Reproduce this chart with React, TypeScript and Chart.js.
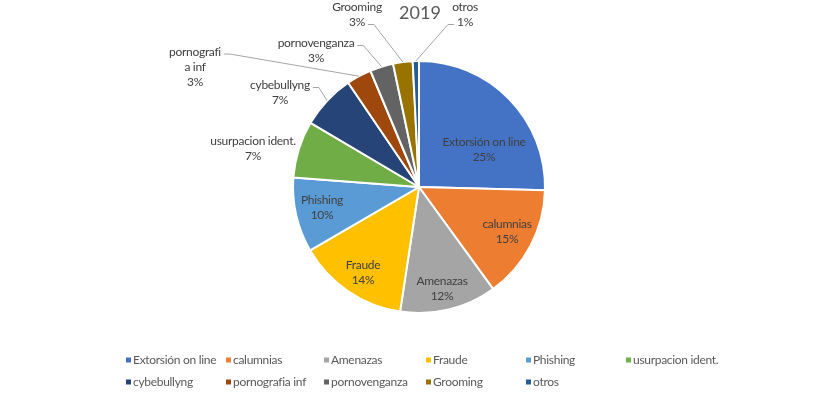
import React, { useEffect, useRef } from "react";
import { Chart, registerables } from "chart.js";

Chart.register(...registerables);

const titleText = "2019";
const categories = [
  "Extorsión on line",
  "calumnias",
  "Amenazas",
  "Fraude",
  "Phishing",
  "usurpacion ident.",
  "cybebullyng",
  "pornografia inf",
  "pornovenganza",
  "Grooming",
  "otros",
];
const values = [25.4, 14.6, 12.4, 14.2, 9.6, 7.3, 7.0, 3.2, 3.0, 2.5, 0.8];
const colors = [
  "#4472C4",
  "#ED7D31",
  "#A5A5A5",
  "#FFC000",
  "#5B9BD5",
  "#70AD47",
  "#264478",
  "#9E480E",
  "#636363",
  "#997300",
  "#255E91",
];

// label placement (offset of text block centre from pie centre) – layout only
const labelLayout: { dx: number; dy: number; wrapAt?: number; leader?: { line: number; side: "left" | "right" } }[] = [
  { dx: 65, dy: -37 },
  { dx: 88, dy: 45 },
  { dx: 23, dy: 102 },
  { dx: -56, dy: 85.5 },
  { dx: -97, dy: 21 },
  { dx: -166, dy: -38 },
  { dx: -139, dy: -94, leader: { line: 0, side: "right" } },
  { dx: -224, dy: -120, wrapAt: 10, leader: { line: 0, side: "right" } },
  { dx: -103, dy: -136, leader: { line: 0, side: "right" } },
  { dx: -62, dy: -172, leader: { line: 1, side: "right" } },
  { dx: 46, dy: -172, leader: { line: 1, side: "left" } },
];

const legendCols = [126, 226, 324, 426, 526, 626];
const legendRows = [360, 382];

const FONT = "Lato, 'Open Sans', sans-serif";
const SPACING = "-0.3px";

const overlayPlugin = {
  id: "overlay",
  afterDatasetsDraw(chart: any) {
    const ctx: any = chart.ctx;
    const meta = chart.getDatasetMeta(0);
    const total = values.reduce((a, b) => a + b, 0);
    ctx.save();
    ctx.font = `12px ${FONT}`;
    ctx.letterSpacing = SPACING;
    ctx.textAlign = "center";
    ctx.textBaseline = "middle";
    meta.data.forEach((arc: any, i: number) => {
      const p = arc.getProps(["x", "y", "outerRadius", "startAngle", "endAngle"], true);
      const lay = labelLayout[i];
      const name = categories[i];
      const nameLines = lay.wrapAt ? [name.slice(0, lay.wrapAt), name.slice(lay.wrapAt)] : [name];
      const lines = [...nameLines, Math.round((values[i] / total) * 100) + "%"];
      const cx = p.x + lay.dx;
      const cy = p.y + lay.dy;
      const lh = 15;
      const n = lines.length;
      ctx.fillStyle = "#404040";
      lines.forEach((t, k) => {
        ctx.fillText(t, cx, cy + (k - (n - 1) / 2) * lh);
      });
      if (lay.leader) {
        const k = lay.leader.line;
        const w = ctx.measureText(lines[k]).width;
        const ly = cy + (k - (n - 1) / 2) * lh + 2;
        const dir = lay.leader.side === "right" ? 1 : -1;
        const sx = cx + dir * (w / 2 + 3);
        const ex = sx + dir * 6;
        const mid = (p.startAngle + p.endAngle) / 2;
        const tx = p.x + p.outerRadius * Math.cos(mid);
        const ty = p.y + p.outerRadius * Math.sin(mid);
        ctx.strokeStyle = "#A6A6A6";
        ctx.lineWidth = 1;
        ctx.beginPath();
        ctx.moveTo(sx, ly);
        ctx.lineTo(ex, ly);
        ctx.lineTo(tx, ty);
        ctx.stroke();
      }
    });

    // title
    ctx.fillStyle = "#595959";
    ctx.letterSpacing = "0px";
    ctx.font = `18px ${FONT}`;
    ctx.fillText(titleText, 420, 13);

    // legend
    ctx.font = `12px ${FONT}`;
    ctx.letterSpacing = SPACING;
    ctx.textAlign = "left";
    categories.forEach((c, i) => {
      const row = Math.floor(i / legendCols.length);
      const col = i % legendCols.length;
      const mx = legendCols[col];
      const my = legendRows[row];
      ctx.fillStyle = colors[i];
      ctx.fillRect(mx, my - 2.5, 5, 5);
      ctx.fillStyle = "#595959";
      ctx.fillText(c, mx + 7, my);
    });
    ctx.restore();
  },
};

export default function App() {
  const ref = useRef<HTMLCanvasElement | null>(null);
  useEffect(() => {
    document.body.style.margin = "0";
    const canvas = ref.current;
    if (!canvas) return;
    const chart = new Chart(canvas, {
      type: "pie",
      data: {
        labels: categories,
        datasets: [
          {
            data: values,
            backgroundColor: colors,
            borderColor: "#FFFFFF",
            borderWidth: 2,
            radius: 126,
          } as any,
        ],
      },
      options: {
        animation: false,
        responsive: false,
        devicePixelRatio: 1,
        layout: { padding: { left: 2, right: 0, top: 61, bottom: 85 } },
        plugins: {
          legend: { display: false },
          title: { display: false },
          tooltip: { enabled: false },
        },
      },
      plugins: [overlayPlugin],
    });
    return () => chart.destroy();
  }, []);
  return (
    <div style={{ width: 836, height: 398, background: "#fff" }}>
      <canvas ref={ref} width={836} height={398} />
    </div>
  );
}
